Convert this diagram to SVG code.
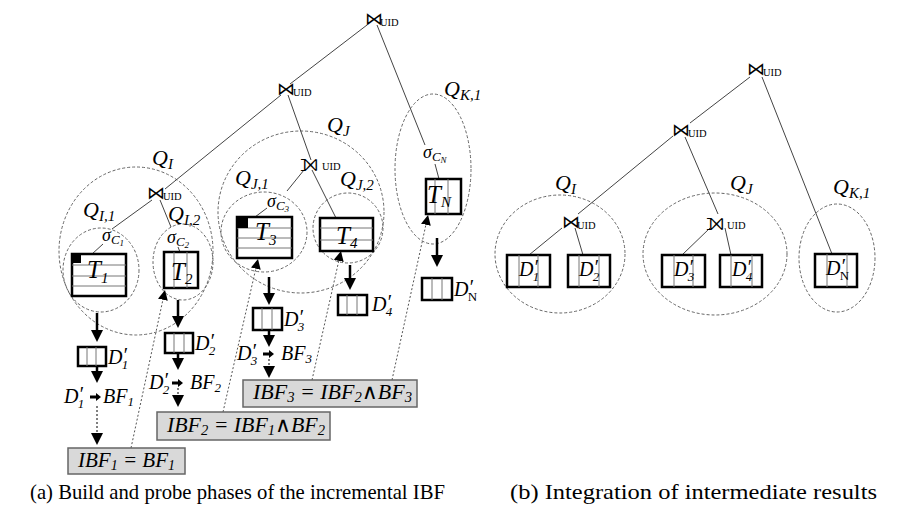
<svg xmlns="http://www.w3.org/2000/svg" width="897" height="510" viewBox="0 0 897 510">
<style>
.ed{stroke:#444;stroke-width:1;fill:none}
.el{stroke:#666;stroke-width:1;stroke-dasharray:3 2;fill:none}
.bx{stroke:#000;stroke-width:2.5;fill:#fff}
.gr{stroke:#777;stroke-width:1}
.blk{fill:#000}
.th{stroke:#000;stroke-width:2.5;fill:none}
.dv{stroke:#000;stroke-width:1;stroke-dasharray:2 2;fill:none}
.pr{stroke:#555;stroke-width:1;stroke-dasharray:2 2;fill:none}
.ibf{fill:#d9d9d9;stroke:#666;stroke-width:1.5}
.m{font-family:"Liberation Serif","DejaVu Serif",serif;font-style:italic;fill:#000}
.q{font-size:22px}
.s{font-size:18px}
.t{font-size:25px}
.d{font-size:20px}
.f{font-size:21px}
.j{font-family:"DejaVu Sans",sans-serif;font-size:18px;fill:#000}
.oj{font-family:"DejaVu Sans",sans-serif;font-size:24px;fill:#000}
.u{font-family:"Liberation Serif",serif;font-size:10.5px;fill:#000}
.cap{font-family:"Liberation Serif",serif;font-size:22px;fill:#000}
</style>
<defs>
<marker id="ah" markerUnits="userSpaceOnUse" markerWidth="12" markerHeight="12" refX="0" refY="6" orient="auto"><path d="M0,0 L12,6 L0,12z" fill="#000"/></marker>
<marker id="ad" markerUnits="userSpaceOnUse" markerWidth="10" markerHeight="10" refX="0" refY="5" orient="auto"><path d="M0,0 L10,5 L0,10z" fill="#000"/></marker>
</defs>
<rect width="897" height="510" fill="#fff"/>

<g id="regions">
<ellipse class="el" cx="136" cy="251" rx="77" ry="84"/>
<ellipse class="el" cx="101" cy="270" rx="38" ry="42"/>
<ellipse class="el" cx="183" cy="262" rx="30" ry="38"/>
<ellipse class="el" cx="301" cy="212" rx="83" ry="81"/>
<ellipse class="el" cx="264" cy="232" rx="43" ry="40"/>
<ellipse class="el" cx="348" cy="228" rx="35" ry="35"/>
<ellipse class="el" cx="433" cy="169" rx="38" ry="75"/>
<ellipse class="el" cx="560" cy="254" rx="65" ry="59"/>
<ellipse class="el" cx="715" cy="254" rx="72" ry="61"/>
<ellipse class="el" cx="837" cy="258" rx="38" ry="54"/>
</g>

<g id="connectors">
<line class="ed" x1="367" y1="25" x2="290" y2="84"/>
<line class="ed" x1="281" y1="95" x2="165" y2="189"/>
<line class="ed" x1="288" y1="95" x2="311" y2="160"/>
<line class="ed" x1="377" y1="25" x2="425" y2="145"/>
<line class="ed" x1="435" y1="164" x2="439" y2="179"/>
<line class="ed" x1="152" y1="200" x2="112" y2="229"/>
<line class="ed" x1="103" y1="244" x2="92" y2="254"/>
<line class="ed" x1="160" y1="200" x2="171" y2="227"/>
<line class="ed" x1="178" y1="247" x2="180" y2="252"/>
<line class="ed" x1="304" y1="170" x2="287" y2="191"/>
<line class="ed" x1="267" y1="208" x2="255" y2="217"/>
<line class="ed" x1="312" y1="170" x2="336" y2="218"/>
<line class="ed" x1="750" y1="77" x2="690" y2="123"/>
<line class="ed" x1="673" y1="136" x2="578" y2="214"/>
<line class="ed" x1="685" y1="137" x2="718" y2="214"/>
<line class="ed" x1="762" y1="77" x2="832" y2="254"/>
<line class="ed" x1="562" y1="228" x2="529" y2="255"/>
<line class="ed" x1="575" y1="228" x2="583" y2="255"/>
<line class="ed" x1="710" y1="228" x2="682" y2="255"/>
<line class="ed" x1="725" y1="228" x2="731" y2="255"/>
<line class="th" x1="97" y1="313" x2="97" y2="330" marker-end="url(#ah)"/>
<line class="th" x1="97" y1="366" x2="97" y2="371" marker-end="url(#ah)"/>
<line class="dv" x1="97" y1="406" x2="97" y2="433" marker-end="url(#ah)"/>
<line class="th" x1="178" y1="300" x2="178" y2="316" marker-end="url(#ah)"/>
<line class="th" x1="178" y1="353" x2="178" y2="358" marker-end="url(#ah)"/>
<line class="dv" x1="178" y1="388" x2="178" y2="395" marker-end="url(#ah)"/>
<line class="th" x1="269" y1="277" x2="269" y2="293" marker-end="url(#ah)"/>
<line class="th" x1="269" y1="330" x2="269" y2="335" marker-end="url(#ah)"/>
<line class="dv" x1="269" y1="359" x2="269" y2="366" marker-end="url(#ah)"/>
<line class="th" x1="350" y1="265" x2="350" y2="278" marker-end="url(#ah)"/>
<line class="th" x1="437" y1="238" x2="437" y2="255" marker-end="url(#ah)"/>
<line class="pr" x1="131" y1="448" x2="162.9" y2="299.8" marker-end="url(#ad)"/>
<line class="pr" x1="223" y1="412" x2="255.8" y2="268.7" marker-end="url(#ad)"/>
<line class="pr" x1="312" y1="380" x2="338.8" y2="260.8" marker-end="url(#ad)"/>
<line class="pr" x1="392" y1="380" x2="425.9" y2="224.8" marker-end="url(#ad)"/>
</g>

<g id="join-top"><text class="j" x="365" y="25">⋈</text><text class="u" x="380" y="26">UID</text></g>
<g id="join-2"><text class="j" x="277" y="95">⋈</text><text class="u" x="293" y="96">UID</text></g>
<g id="join-I"><text class="j" x="147" y="199">⋈</text><text class="u" x="163" y="200">UID</text></g>
<g id="join-J"><text class="oj" x="300" y="171">⟕</text><text class="u" x="322" y="170">UID</text></g>
<g id="rjoin-top"><text class="j" x="747" y="75">⋈</text><text class="u" x="763" y="76">UID</text></g>
<g id="rjoin-2"><text class="j" x="672" y="136">⋈</text><text class="u" x="688" y="137">UID</text></g>
<g id="rjoin-I"><text class="j" x="562" y="228">⋈</text><text class="u" x="577" y="229">UID</text></g>
<g id="rjoin-J"><text class="oj" x="706" y="230">⟕</text><text class="u" x="727" y="229">UID</text></g>

<g id="lbl-QI"><text class="m q" x="152" y="165">Q<tspan font-size="15" dy="4">I</tspan></text></g>
<g id="lbl-QI1"><text class="m q" x="83" y="217">Q<tspan font-size="15" dy="4">I,1</tspan></text></g>
<g id="lbl-QI2"><text class="m q" x="168" y="221">Q<tspan font-size="15" dy="4">I,2</tspan></text></g>
<g id="lbl-QJ"><text class="m q" x="327" y="132">Q<tspan font-size="15" dy="4">J</tspan></text></g>
<g id="lbl-QJ1"><text class="m q" x="235" y="185">Q<tspan font-size="15" dy="4">J,1</tspan></text></g>
<g id="lbl-QJ2"><text class="m q" x="340" y="186">Q<tspan font-size="15" dy="4">J,2</tspan></text></g>
<g id="lbl-QK1"><text class="m q" x="444" y="96">Q<tspan font-size="15" dy="4">K,1</tspan></text></g>
<g id="rlbl-QI"><text class="m q" x="555" y="190">Q<tspan font-size="15" dy="4">I</tspan></text></g>
<g id="rlbl-QJ"><text class="m q" x="730" y="190">Q<tspan font-size="15" dy="4">J</tspan></text></g>
<g id="rlbl-QK1"><text class="m q" x="833" y="194">Q<tspan font-size="15" dy="4">K,1</tspan></text></g>

<g id="sel-C1"><text class="m s" x="102" y="241">σ<tspan font-size="13" dy="3">C</tspan><tspan font-size="9" dy="2">1</tspan></text></g>
<g id="sel-C2"><text class="m s" x="167" y="243">σ<tspan font-size="13" dy="3">C</tspan><tspan font-size="9" dy="2">2</tspan></text></g>
<g id="sel-C3"><text class="m s" x="267" y="207">σ<tspan font-size="13" dy="3">C</tspan><tspan font-size="9" dy="2">3</tspan></text></g>
<g id="sel-CN"><text class="m s" x="423" y="158">σ<tspan font-size="13" dy="3">C</tspan><tspan font-size="9" dy="2">N</tspan></text></g>

<g id="T1">
<rect class="bx" x="72" y="254" width="54" height="42"/>
<line class="gr" x1="72" y1="265" x2="126" y2="265"/><line class="gr" x1="72" y1="276" x2="126" y2="276"/><line class="gr" x1="72" y1="286" x2="126" y2="286"/>
<rect class="blk" x="72" y="254" width="9" height="9"/>
<text class="m t" x="87" y="278">T<tspan font-size="15" dy="5">1</tspan></text>
</g>
<g id="T2">
<rect class="bx" x="164" y="252" width="34" height="36"/>
<line class="gr" x1="174" y1="252" x2="174" y2="288"/><line class="gr" x1="187" y1="252" x2="187" y2="288"/>
<text class="m t" x="171" y="280">T<tspan font-size="15" dy="4">2</tspan></text>
</g>
<g id="T3">
<rect class="bx" x="237" y="217" width="55" height="41"/>
<line class="gr" x1="237" y1="228" x2="292" y2="228"/><line class="gr" x1="237" y1="238" x2="292" y2="238"/><line class="gr" x1="237" y1="248" x2="292" y2="248"/>
<rect class="blk" x="237" y="217" width="11" height="11"/>
<text class="m t" x="255" y="240">T<tspan font-size="15" dy="5">3</tspan></text>
</g>
<g id="T4">
<rect class="bx" x="320" y="218" width="53" height="33"/>
<line class="gr" x1="320" y1="228" x2="373" y2="228"/><line class="gr" x1="320" y1="240" x2="373" y2="240"/>
<text class="m t" x="336" y="244">T<tspan font-size="15" dy="4">4</tspan></text>
</g>
<g id="TN">
<rect class="bx" x="426" y="179" width="35" height="35"/>
<line class="gr" x1="435" y1="179" x2="435" y2="214"/><line class="gr" x1="448" y1="179" x2="448" y2="214"/>
<text class="m t" x="427" y="203">T<tspan font-size="15" dy="4">N</tspan></text>
</g>

<g id="D1">
<rect class="bx" x="78" y="347" width="28" height="19"/>
<line class="gr" x1="87" y1="347" x2="87" y2="366"/><line class="gr" x1="96" y1="347" x2="96" y2="366"/>
<text class="m d" x="108" y="364">D<tspan dy="-2">′</tspan><tspan font-size="13" dx="-5" dy="7">1</tspan></text>
</g>
<g id="D2">
<rect class="bx" x="165" y="333" width="28" height="20"/>
<line class="gr" x1="174" y1="333" x2="174" y2="353"/><line class="gr" x1="184" y1="333" x2="184" y2="353"/>
<text class="m d" x="195" y="350">D<tspan dy="-2">′</tspan><tspan font-size="13" dx="-5" dy="7">2</tspan></text>
</g>
<g id="D3">
<rect class="bx" x="253" y="308" width="29" height="22"/>
<line class="gr" x1="262" y1="308" x2="262" y2="330"/><line class="gr" x1="272" y1="308" x2="272" y2="330"/>
<text class="m d" x="284" y="326">D<tspan dy="-2">′</tspan><tspan font-size="13" dx="-5" dy="7">3</tspan></text>
</g>
<g id="D4">
<rect class="bx" x="338" y="295" width="29" height="20"/>
<line class="gr" x1="347" y1="295" x2="347" y2="315"/><line class="gr" x1="357" y1="295" x2="357" y2="315"/>
<text class="m d" x="372" y="311">D<tspan dy="-2">′</tspan><tspan font-size="13" dx="-5" dy="7">4</tspan></text>
</g>
<g id="DN">
<rect class="bx" x="422" y="278" width="30" height="22"/>
<line class="gr" x1="432" y1="278" x2="432" y2="300"/><line class="gr" x1="442" y1="278" x2="442" y2="300"/>
<text class="m d" x="454" y="296">D<tspan dy="-2">′</tspan><tspan font-size="13" font-style="normal" dx="-5" dy="7">N</tspan></text>
</g>

<g id="BF1">
<text class="m d" x="64" y="403">D<tspan dy="-2">′</tspan><tspan font-size="13" dx="-5" dy="7">1</tspan></text>
<path d="M90,395.5 H96 V393 L101,397 L96,401 V398.5 H90Z" fill="#000"/>
<text class="m d" x="103" y="403">BF<tspan font-size="13" dy="3">1</tspan></text>
</g>
<g id="BF2">
<text class="m d" x="149" y="389">D<tspan dy="-2">′</tspan><tspan font-size="13" dx="-5" dy="7">2</tspan></text>
<path d="M172,381.5 H178 V379 L183,383 L178,387 V384.5 H172Z" fill="#000"/>
<text class="m d" x="190" y="389">BF<tspan font-size="13" dy="3">2</tspan></text>
</g>
<g id="BF3">
<text class="m d" x="237" y="360">D<tspan dy="-2">′</tspan><tspan font-size="13" dx="-5" dy="7">3</tspan></text>
<path d="M263,352.5 H269 V350 L274,354 L269,358 V355.5 H263Z" fill="#000"/>
<text class="m d" x="281" y="360">BF<tspan font-size="13" dy="3">3</tspan></text>
</g>

<g id="IBF1">
<rect class="ibf" x="68" y="448" width="117" height="26"/>
<text class="m f" x="78" y="467" textLength="97" lengthAdjust="spacingAndGlyphs">IBF<tspan font-size="14" dy="3">1</tspan><tspan dy="-3"> = BF</tspan><tspan font-size="14" dy="3">1</tspan></text>
</g>
<g id="IBF2">
<rect class="ibf" x="157" y="412" width="173" height="28"/>
<text class="m f" x="167" y="432" textLength="158" lengthAdjust="spacingAndGlyphs">IBF<tspan font-size="14" dy="3">2</tspan><tspan dy="-3"> =  IBF</tspan><tspan font-size="14" dy="3">1</tspan><tspan dy="-3">∧BF</tspan><tspan font-size="14" dy="3">2</tspan></text>
</g>
<g id="IBF3">
<rect class="ibf" x="243" y="380" width="174" height="27"/>
<text class="m f" x="253" y="399" textLength="159" lengthAdjust="spacingAndGlyphs">IBF<tspan font-size="14" dy="3">3</tspan><tspan dy="-3"> =  IBF</tspan><tspan font-size="14" dy="3">2</tspan><tspan dy="-3">∧BF</tspan><tspan font-size="14" dy="3">3</tspan></text>
</g>

<g id="rD1">
<rect class="bx" x="507" y="255" width="43" height="32"/>
<line class="gr" x1="519" y1="255" x2="519" y2="287"/><line class="gr" x1="538" y1="255" x2="538" y2="287"/>
<text class="m d" x="519" y="276">D<tspan dy="-2">′</tspan><tspan font-size="13" dx="-5" dy="7">1</tspan></text>
</g>
<g id="rD2">
<rect class="bx" x="568" y="255" width="42" height="32"/>
<line class="gr" x1="579" y1="255" x2="579" y2="287"/><line class="gr" x1="599" y1="255" x2="599" y2="287"/>
<text class="m d" x="579" y="276">D<tspan dy="-2">′</tspan><tspan font-size="13" dx="-5" dy="7">2</tspan></text>
</g>
<g id="rD3">
<rect class="bx" x="662" y="255" width="43" height="32"/>
<line class="gr" x1="674" y1="255" x2="674" y2="287"/><line class="gr" x1="693" y1="255" x2="693" y2="287"/>
<text class="m d" x="674" y="276">D<tspan dy="-2">′</tspan><tspan font-size="13" dx="-5" dy="7">3</tspan></text>
</g>
<g id="rD4">
<rect class="bx" x="720" y="255" width="42" height="32"/>
<line class="gr" x1="731" y1="255" x2="731" y2="287"/><line class="gr" x1="752" y1="255" x2="752" y2="287"/>
<text class="m d" x="732" y="276">D<tspan dy="-2">′</tspan><tspan font-size="13" dx="-5" dy="7">4</tspan></text>
</g>
<g id="rDN">
<rect class="bx" x="815" y="254" width="42" height="33"/>
<line class="gr" x1="827" y1="254" x2="827" y2="287"/><line class="gr" x1="847" y1="254" x2="847" y2="287"/>
<text class="m d" x="826" y="275">D<tspan dy="-2">′</tspan><tspan font-size="13" font-style="normal" dx="-5" dy="7">N</tspan></text>
</g>

<text class="cap" x="30" y="499" textLength="415" lengthAdjust="spacingAndGlyphs">(a) Build and probe phases of the incremental IBF</text>
<text class="cap" x="510" y="499" textLength="367" lengthAdjust="spacingAndGlyphs">(b) Integration of intermediate results</text>
</svg>
